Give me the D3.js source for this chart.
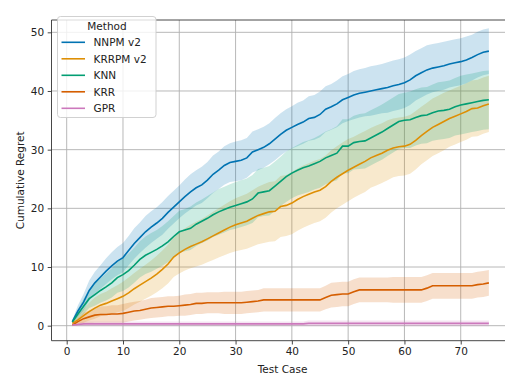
<!DOCTYPE html>
<html><head><meta charset="utf-8">
<script src="https://cdn.jsdelivr.net/npm/d3@7"></script>
<style>body{margin:0;background:#fff}svg{display:block}text{font-family:"DejaVu Sans",sans-serif}</style>
</head><body><svg id="c" width="505" height="379"></svg>
<script>
const cases = d3.range(1, 76);
const methods = ["NNPM v2", "KRRPM v2", "KNN", "KRR", "GPR"];
const colors = ["#0173b2", "#de8f05", "#029e73", "#d55e00", "#cc78bc"];
const xTicks = [0, 10, 20, 30, 40, 50, 60, 70];
const yTicks = [0, 10, 20, 30, 40, 50];

const nnpm = [0.7,2.5,4.0,6.0,7.3,8.3,9.3,10.2,11.0,11.6,12.8,14.0,15.0,16.0,16.8,17.5,18.3,19.3,20.2,21.1,
22.0,22.8,23.5,24.0,24.8,25.8,26.5,27.3,27.8,28.0,28.2,28.6,29.6,30.0,30.4,31.0,31.8,32.6,33.3,33.8,
34.3,34.7,35.3,35.5,36.0,36.9,37.3,37.8,38.5,38.9,39.3,39.6,39.8,40.0,40.2,40.4,40.6,40.9,41.1,41.4,
41.9,42.6,43.1,43.6,43.9,44.1,44.3,44.6,44.8,45.0,45.3,45.7,46.2,46.6,46.8];
const krrpm = [0.4,1.0,1.7,2.4,3.0,3.5,3.8,4.2,4.6,5.0,5.6,6.3,6.9,7.5,8.1,8.8,9.6,10.5,11.7,12.4,
13.0,13.5,13.9,14.3,14.8,15.3,15.8,16.3,16.8,17.2,17.5,17.8,18.3,18.8,19.1,19.4,19.5,20.3,20.5,20.9,
21.5,22.0,22.4,22.8,23.1,23.7,24.6,25.3,25.9,26.5,27.0,27.5,28.0,28.6,29.0,29.4,29.9,30.3,30.5,30.6,
30.9,31.6,32.4,33.1,33.8,34.3,34.8,35.3,35.7,36.1,36.5,37.0,37.1,37.5,37.8];
const knn = [0.6,2.0,3.3,4.6,5.3,6.0,6.6,7.3,8.2,8.7,9.4,10.3,11.3,12.0,12.5,13.0,13.6,14.3,15.2,16.0,
16.3,16.6,17.3,17.8,18.3,18.9,19.4,19.8,20.2,20.5,20.8,21.1,21.6,22.6,22.8,23.0,23.8,24.6,25.4,26.0,
26.5,26.9,27.2,27.6,28.0,28.6,29.0,29.4,30.6,30.6,31.2,31.4,31.5,32.0,32.5,33.0,33.6,34.2,34.8,35.0,
35.1,35.5,35.8,35.9,36.3,36.6,36.7,36.9,37.3,37.6,37.8,38.0,38.2,38.4,38.5];
const krr = [0.1,0.7,1.2,1.5,1.8,1.9,1.9,2.0,2.0,2.1,2.3,2.5,2.6,2.8,3.0,3.1,3.2,3.3,3.3,3.4,
3.5,3.6,3.8,3.8,3.9,3.9,3.9,3.9,3.9,3.9,3.9,4.0,4.1,4.2,4.4,4.4,4.4,4.4,4.4,4.4,
4.4,4.4,4.4,4.4,4.4,4.8,5.2,5.3,5.4,5.4,5.8,6.1,6.1,6.1,6.1,6.1,6.1,6.1,6.1,6.1,
6.1,6.1,6.1,6.4,6.8,6.8,6.8,6.8,6.8,6.8,6.8,6.8,7.0,7.1,7.3];
const gpr = [0.1,0.2,0.3,0.3,0.3,0.3,0.3,0.3,0.3,0.3,0.3,0.3,0.3,0.3,0.3,0.3,0.3,0.3,0.3,0.3,
0.3,0.3,0.3,0.3,0.3,0.3,0.3,0.3,0.3,0.3,0.3,0.3,0.3,0.3,0.3,0.3,0.3,0.3,0.3,0.3,
0.3,0.3,0.4,0.4,0.4,0.4,0.4,0.4,0.4,0.4,0.4,0.4,0.4,0.4,0.4,0.4,0.4,0.4,0.4,0.4,
0.4,0.4,0.4,0.4,0.4,0.4,0.4,0.4,0.4,0.4,0.4,0.4,0.4,0.4,0.4];

// confidence band half-widths
const nnpmCI = [0.3,1.0,1.4,1.7,1.9,2.0,2.2,2.3,2.4,2.5,2.5,2.6,2.6,2.7,2.7,2.7,2.8,2.8,2.8,2.8,
2.9,3.0,3.0,3.1,3.1,3.2,3.2,3.3,3.3,3.4,3.4,3.4,3.5,3.5,3.5,3.5,3.6,3.6,3.6,3.6,
3.7,3.7,3.8,3.8,3.9,3.9,3.9,4.0,4.0,4.0,4.1,4.1,4.1,4.2,4.2,4.2,4.3,4.3,4.3,4.3,
4.3,4.2,4.2,4.2,4.1,4.1,4.1,4.0,4.0,4.0,4.0,3.9,3.9,3.9,3.9];
const krrpmCI = [0.3,0.8,1.2,1.5,1.8,1.9,2.0,2.2,2.3,2.5,2.6,2.7,2.8,2.9,3.0,3.1,3.2,3.3,3.4,3.5,
3.6,3.7,3.8,3.9,4.0,4.1,4.2,4.3,4.4,4.5,4.6,4.7,4.8,4.9,5.0,5.1,5.1,5.2,5.2,5.3,
5.3,5.3,5.3,5.3,5.3,5.3,5.3,5.3,5.3,5.3,5.2,5.2,5.2,5.1,5.1,5.1,5.1,5.0,5.0,5.0,
5.0,5.0,4.9,4.9,4.9,4.9,4.9,4.8,4.8,4.8,4.8,4.8,4.8,4.8,4.8];
const knnCI = [0.3,0.9,1.3,1.6,1.9,2.1,2.3,2.5,2.6,2.8,2.9,3.0,3.1,3.2,3.3,3.3,3.4,3.5,3.5,3.6,
3.6,3.7,3.7,3.7,3.8,3.8,3.9,3.9,3.9,4.0,4.0,4.0,4.1,4.1,4.1,4.2,4.2,4.2,4.3,4.3,
4.3,4.4,4.4,4.4,4.5,4.5,4.5,4.6,4.6,4.6,4.6,4.7,4.7,4.7,4.7,4.7,4.7,4.7,4.7,4.7,
4.8,4.8,4.8,4.8,4.8,4.9,4.9,4.9,4.9,5.0,5.0,5.0,5.0,5.0,5.0];
const krrCI = [0.2,0.6,1.0,1.1,1.3,1.4,1.4,1.5,1.5,1.6,1.6,1.6,1.6,1.6,1.7,1.7,1.7,1.7,1.7,1.7,
1.8,1.8,1.8,1.8,1.8,1.8,1.8,1.9,1.9,1.9,1.9,1.9,1.9,1.9,2.0,2.0,2.0,2.0,2.0,2.0,
2.0,2.0,2.0,2.0,2.0,2.0,2.1,2.1,2.1,2.1,2.1,2.1,2.1,2.1,2.1,2.1,2.1,2.2,2.2,2.2,
2.2,2.2,2.2,2.2,2.2,2.2,2.2,2.2,2.2,2.2,2.2,2.2,2.2,2.2,2.2];
const gprCI = [0.1,0.3,0.4,0.4,0.4,0.4,0.4,0.4,0.4,0.4,0.4,0.4,0.4,0.4,0.4,0.4,0.4,0.4,0.4,0.4,
0.4,0.4,0.4,0.4,0.4,0.4,0.4,0.4,0.4,0.4,0.4,0.4,0.4,0.4,0.4,0.4,0.4,0.4,0.4,0.4,
0.4,0.4,0.5,0.5,0.5,0.5,0.5,0.5,0.5,0.5,0.5,0.5,0.5,0.5,0.5,0.5,0.5,0.5,0.5,0.5,
0.5,0.5,0.5,0.5,0.5,0.5,0.5,0.5,0.5,0.5,0.5,0.5,0.5,0.5,0.5];

const seriesVals = [nnpm, krrpm, knn, krr, gpr];
const seriesCI = [nnpmCI, krrpmCI, knnCI, krrCI, gprCI];

const svg = d3.select("#c");
const L = 51.5, R = 509.7, T = 20, B = 340.7;
const x = d3.scaleLinear().domain([-2.7, 78.7]).range([L, R]);
const y = d3.scaleLinear().domain([-2.56, 52.1]).range([B, T]);
const fs = "10.5px";

svg.append("defs").append("clipPath").attr("id", "clip")
  .append("rect").attr("x", L).attr("y", T).attr("width", R - L).attr("height", B - T);

// grid
const grid = svg.append("g");
grid.selectAll(".gx").data(xTicks).join("line")
  .attr("x1", d => x(d)).attr("x2", d => x(d)).attr("y1", T).attr("y2", B)
  .attr("stroke", "#b0b0b0").attr("stroke-width", 0.9);
grid.selectAll(".gy").data(yTicks).join("line")
  .attr("y1", d => y(d)).attr("y2", d => y(d)).attr("x1", L).attr("x2", R)
  .attr("stroke", "#b0b0b0").attr("stroke-width", 0.9);

const plot = svg.append("g").attr("clip-path", "url(#clip)");
const line = d3.line().x(d => x(d[0])).y(d => y(d[1]));
const area = d3.area().x(d => x(d[0])).y0(d => y(d[1] - d[2])).y1(d => y(d[1] + d[2]));
const allPts = methods.map((m, k) => cases.map((c, i) => [c, seriesVals[k][i], seriesCI[k][i]]));

allPts.forEach((pts, k) => {
  plot.append("path").attr("d", area(pts)).attr("fill", colors[k]).attr("fill-opacity", 0.2)
    .attr("stroke", "none");
});
allPts.forEach((pts, k) => {
  plot.append("path").attr("d", line(pts)).attr("fill", "none")
    .attr("stroke", colors[k]).attr("stroke-width", 1.6);
});

// axes
const xAxis = svg.append("g").attr("transform", `translate(0,${B})`)
  .call(d3.axisBottom(x).tickValues(xTicks).tickSize(3.8).tickPadding(3.5).tickSizeOuter(0));
const yAxis = svg.append("g").attr("transform", `translate(${L},0)`)
  .call(d3.axisLeft(y).tickValues(yTicks).tickSize(3.8).tickPadding(3.5).tickSizeOuter(0));
[xAxis, yAxis].forEach(a => {
  a.select(".domain").remove();
  a.selectAll("line").attr("stroke", "#333").attr("stroke-width", 0.9);
  a.selectAll("text").attr("font-size", fs).attr("fill", "#222").attr("font-family", "DejaVu Sans");
});
// spines
svg.append("path").attr("d", `M${L},${T}H${R}M${L},${T}V${B}H${R}`)
  .attr("fill", "none").attr("stroke", "#333").attr("stroke-width", 0.9);

svg.append("text").attr("x", (L + R) / 2 + 2).attr("y", 373).attr("text-anchor", "middle")
  .attr("font-size", fs).attr("fill", "#222").text("Test Case");
svg.append("text").attr("transform", `translate(24,${(T + B) / 2}) rotate(-90)`)
  .attr("text-anchor", "middle").attr("font-size", fs).attr("fill", "#222").text("Cumulative Regret");

// legend
const lg = svg.append("g");
lg.append("rect").attr("x", 57.5).attr("y", 16.5).attr("width", 98.5).attr("height", 101)
  .attr("rx", 3).attr("fill", "#fff").attr("fill-opacity", 0.8)
  .attr("stroke", "#cccccc").attr("stroke-width", 0.9);
lg.append("text").attr("x", 107).attr("y", 29.5).attr("text-anchor", "middle")
  .attr("font-size", fs).attr("fill", "#222").text("Method");
methods.forEach((m, k) => {
  const yy = 42.3 + k * 16.5;
  lg.append("line").attr("x1", 61.5).attr("x2", 85).attr("y1", yy).attr("y2", yy)
    .attr("stroke", colors[k]).attr("stroke-width", 1.6);
  lg.append("text").attr("x", 93.5).attr("y", yy + 3.8).attr("font-size", fs)
    .attr("fill", "#222").text(m);
});
</script></body></html>
